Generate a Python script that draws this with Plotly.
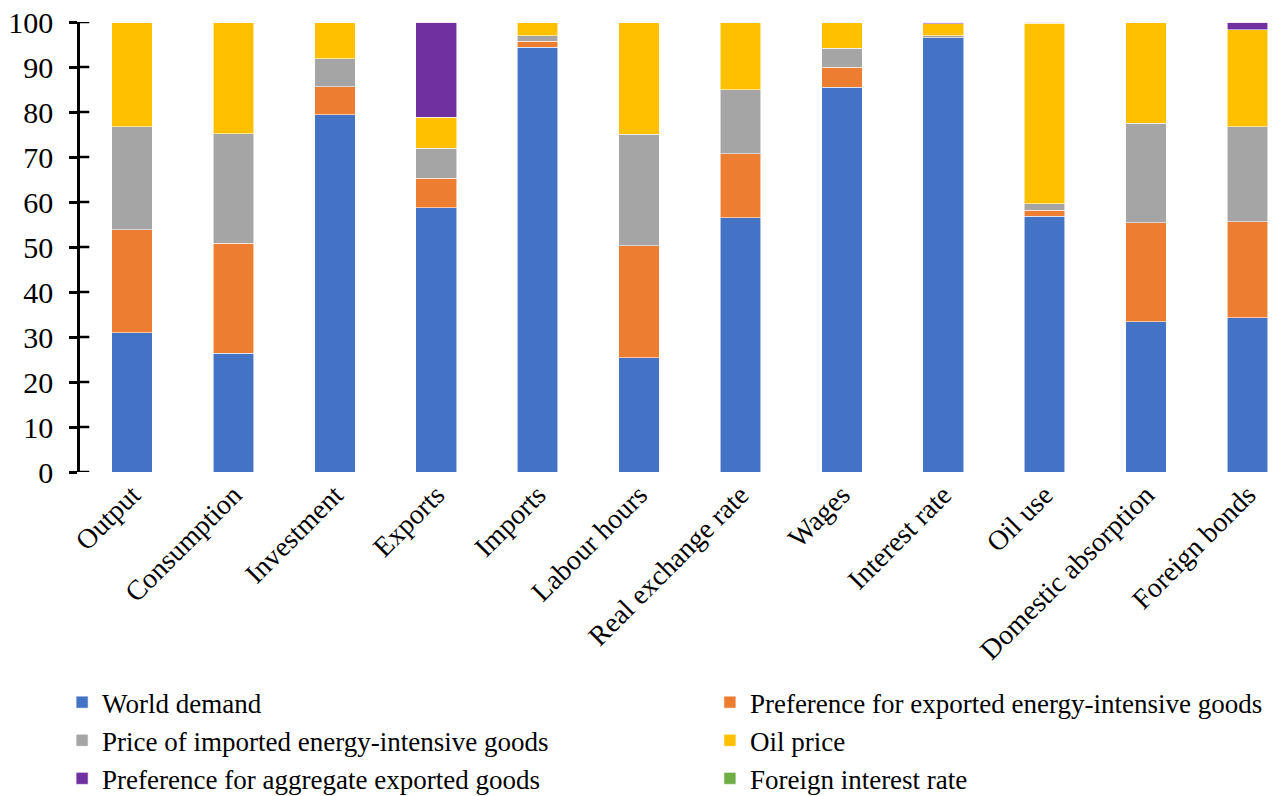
import plotly.graph_objects as go

categories = ["Output", "Consumption", "Investment", "Exports", "Imports", "Labour hours",
              "Real exchange rate", "Wages", "Interest rate", "Oil use",
              "Domestic absorption", "Foreign bonds"]

world_demand = [31.0, 26.4, 79.4, 58.7, 94.4, 25.4, 56.5, 85.5, 96.5, 56.8, 33.4, 34.3]
pref_exported_ei = [22.8, 24.4, 6.2, 6.6, 1.3, 24.9, 14.2, 4.4, 0.05, 1.4, 22.0, 21.3]
price_imported_ei = [22.9, 24.4, 6.2, 6.7, 1.3, 24.8, 14.3, 4.3, 0.45, 1.4, 22.1, 21.1]
oil_price = [23.2, 24.7, 8.1, 6.8, 2.9, 24.8, 14.8, 5.6, 2.6, 40.1, 22.4, 21.6]
pref_aggregate = [0.1, 0.1, 0.1, 21.2, 0.1, 0.1, 0.2, 0.2, 0.4, 0.3, 0.1, 1.7]
foreign_rate = [0.0] * 12

y_ticks = [0, 10, 20, 30, 40, 50, 60, 70, 80, 90, 100]

series = [
    ("World demand", world_demand, "#4472C4", "legend"),
    ("Preference for exported energy-intensive goods", pref_exported_ei, "#ED7D31", "legend2"),
    ("Price of imported energy-intensive goods", price_imported_ei, "#A5A5A5", "legend"),
    ("Oil price", oil_price, "#FFC000", "legend2"),
    ("Preference for aggregate exported goods", pref_aggregate, "#7030A0", "legend"),
    ("Foreign interest rate", foreign_rate, "#70AD47", "legend2"),
]

FONT = "Liberation Serif, Times New Roman, serif"

fig = go.Figure()
for i, (name, vals, color, leg) in enumerate(series):
    fig.add_trace(go.Bar(
        x=categories, y=vals, name=name,
        marker=dict(color=color, line=dict(color="rgba(255,255,255,0.7)", width=0.8)),
        width=0.4, legend=leg, legendgroup=f"g{i}",
    ))

# inner half of the "cross" tick marks on the value axis
for t in y_ticks:
    fig.add_shape(type="line", xref="paper", yref="y", x0=0, x1=0.0078, y0=t, y1=t,
                  line=dict(color="black", width=2.5), layer="above")

fig.update_layout(
    barmode="stack",
    width=1273, height=796,
    margin=dict(l=80, r=0, t=22, b=324, autoexpand=False),
    plot_bgcolor="white", paper_bgcolor="white",
    font=dict(family=FONT, size=28, color="black"),
    xaxis=dict(
        range=[-0.513, 11.252], showline=False, ticks="", tickangle=-45,
        tickfont=dict(size=28), automargin=False, showgrid=False,
    ),
    yaxis=dict(
        range=[0, 100], tickvals=y_ticks, showline=True, linecolor="black", linewidth=2.5,
        ticks="outside", ticklen=8, tickwidth=2.5, tickcolor="black",
        showgrid=False, zeroline=False, automargin=False, tickfont=dict(size=30),
        ticklabelstandoff=10,
    ),
    legend=dict(
        x=-0.015, y=-0.458, xanchor="left", yanchor="top", orientation="v",
        font=dict(size=27, family=FONT), tracegroupgap=0, bgcolor="rgba(0,0,0,0)",
        traceorder="grouped",
    ),
    legend2=dict(
        x=0.528, y=-0.458, xanchor="left", yanchor="top", orientation="v",
        font=dict(size=27, family=FONT), tracegroupgap=0, bgcolor="rgba(0,0,0,0)",
        traceorder="grouped",
    ),
    showlegend=True,
)

fig.write_html("out.html")
